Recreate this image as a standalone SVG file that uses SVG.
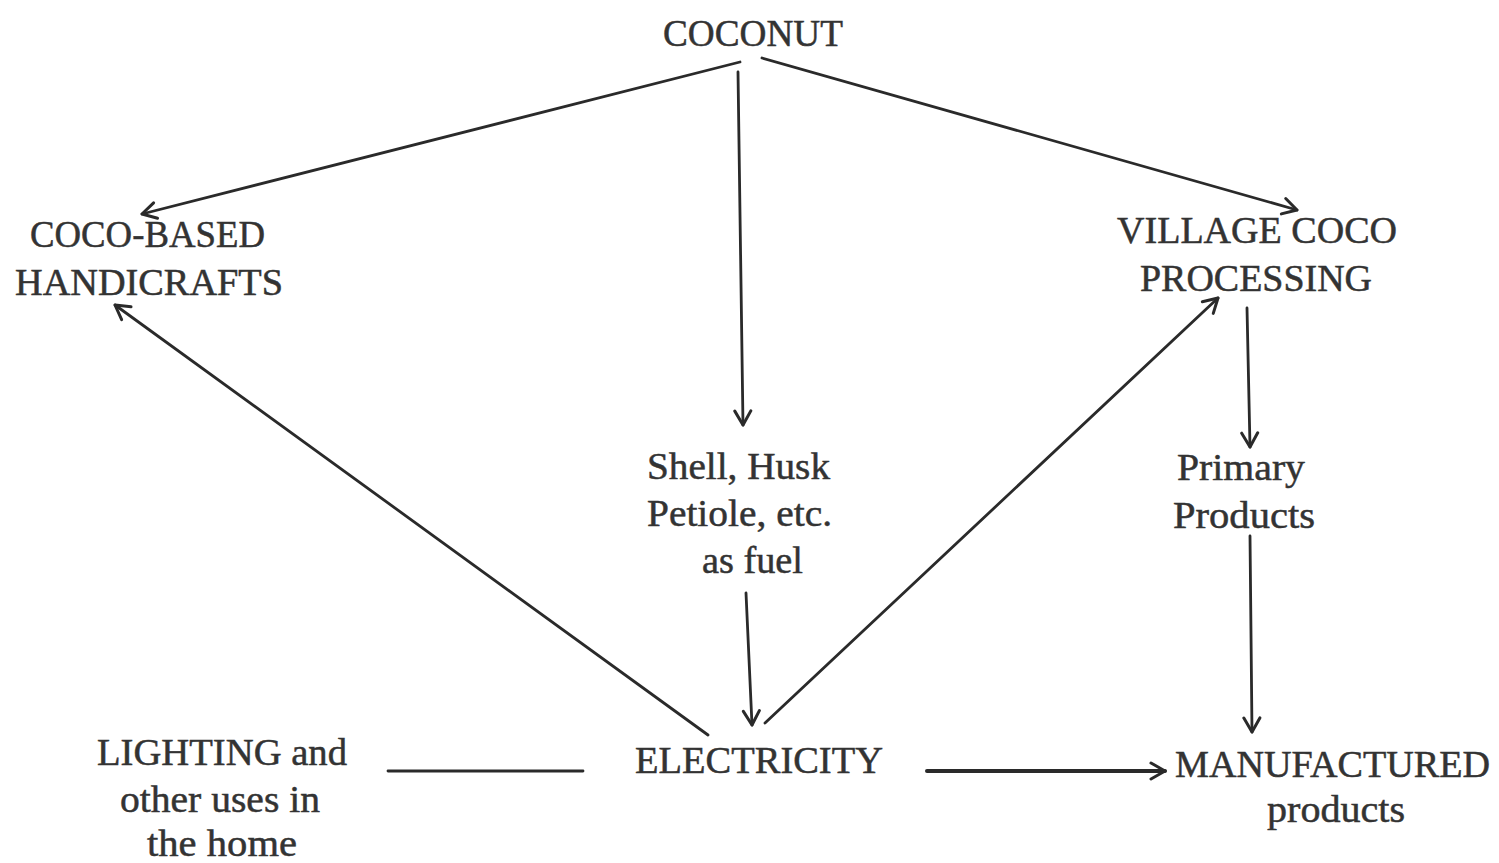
<svg xmlns="http://www.w3.org/2000/svg" width="1499" height="863" viewBox="0 0 1499 863">
<defs>
<style>
text{font-family:"Liberation Serif","Times New Roman",serif;font-size:38px;fill:#333;stroke:#333;stroke-width:0.5;}
.c{stroke:#2a2a2a;stroke-width:2.8;fill:none;stroke-linecap:round;}
.thick{stroke-width:4;}
</style>
<marker id="ah" viewBox="0 0 20 20" refX="18" refY="10" markerWidth="20" markerHeight="20" markerUnits="userSpaceOnUse" orient="auto">
<path d="M4,2 L18,10 L4,18" fill="none" stroke="#2a2a2a" stroke-width="3" stroke-linecap="round" stroke-linejoin="round"/>
</marker>
</defs>
<rect width="1499" height="863" fill="#fff"/>
<g id="coconut"><text x="663" y="46" textLength="180" lengthAdjust="spacingAndGlyphs">COCONUT</text></g>
<g id="handicrafts"><text x="30" y="247" textLength="235" lengthAdjust="spacingAndGlyphs">COCO-BASED</text><text x="15" y="295" textLength="268" lengthAdjust="spacingAndGlyphs">HANDICRAFTS</text></g>
<g id="village"><text x="1117" y="243" textLength="280" lengthAdjust="spacingAndGlyphs">VILLAGE COCO</text><text x="1140" y="291" textLength="232" lengthAdjust="spacingAndGlyphs">PROCESSING</text></g>
<g id="fuel"><text x="647" y="479" textLength="183" lengthAdjust="spacingAndGlyphs">Shell, Husk</text><text x="647" y="526" textLength="185" lengthAdjust="spacingAndGlyphs">Petiole, etc.</text><text x="702" y="573" textLength="101" lengthAdjust="spacingAndGlyphs">as fuel</text></g>
<g id="primary"><text x="1177" y="480" textLength="128" lengthAdjust="spacingAndGlyphs">Primary</text><text x="1173" y="528" textLength="142" lengthAdjust="spacingAndGlyphs">Products</text></g>
<g id="electricity"><text x="635" y="773" textLength="248" lengthAdjust="spacingAndGlyphs">ELECTRICITY</text></g>
<g id="lighting"><text x="97" y="765" textLength="250" lengthAdjust="spacingAndGlyphs">LIGHTING and</text><text x="120" y="812" textLength="200" lengthAdjust="spacingAndGlyphs">other uses in</text><text x="147" y="856" textLength="150" lengthAdjust="spacingAndGlyphs">the home</text></g>
<g id="manufactured"><text x="1175" y="777" textLength="315" lengthAdjust="spacingAndGlyphs">MANUFACTURED</text><text x="1267" y="822" textLength="138" lengthAdjust="spacingAndGlyphs">products</text></g>
<g id="connectors">
<line class="c" x1="740" y1="62" x2="142" y2="214" marker-end="url(#ah)"/>
<line class="c" x1="738" y1="72" x2="743" y2="425" marker-end="url(#ah)"/>
<line class="c" x1="762" y1="58" x2="1297" y2="210" marker-end="url(#ah)"/>
<line class="c" x1="708" y1="735" x2="115" y2="305" marker-end="url(#ah)"/>
<line class="c" x1="765" y1="723" x2="1218" y2="298" marker-end="url(#ah)"/>
<line class="c" x1="746" y1="593" x2="752" y2="725" marker-end="url(#ah)"/>
<line class="c" x1="1247" y1="308" x2="1250" y2="447" marker-end="url(#ah)"/>
<line class="c" x1="1250" y1="536" x2="1252" y2="732" marker-end="url(#ah)"/>
<line class="c" x1="388" y1="771" x2="583" y2="771" stroke-width="3"/>
<line class="c thick" x1="927" y1="771" x2="1165" y2="771" marker-end="url(#ah)"/>
</g>
</svg>
